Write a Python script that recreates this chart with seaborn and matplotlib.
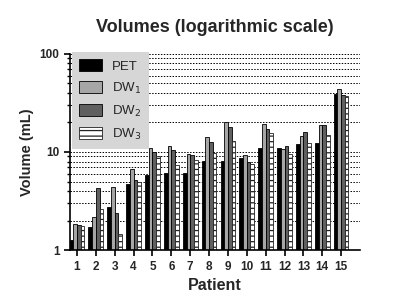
import matplotlib
matplotlib.use('Agg')
import matplotlib.pyplot as plt
import matplotlib.ticker as mticker
import numpy as np
import pandas as pd
import seaborn as sns

# values (mL)
patients = [str(i) for i in range(1, 16)]
pet = [1.26, 1.70, 2.73, 4.75, 5.8, 6.06, 6.06, 8.05, 8.17, 8.76, 11.0, 11.0, 12.0, 12.3, 38.8]
dw1 = [1.83, 2.17, 4.36, 6.7, 10.9, 11.6, 9.5, 14.1, 20.1, 9.24, 19.2, 10.8, 14.5, 18.8, 44.0]
dw2 = [1.79, 4.26, 2.38, 5.15, 10.0, 10.6, 9.4, 12.5, 17.9, 7.97, 17.3, 11.4, 15.9, 18.8, 38.1]
dw3 = [1.76, 2.60, 1.46, 5.0, 9.1, 7.37, 8.3, 9.7, 12.8, 7.5, 15.5, 9.5, 12.3, 14.8, 37.5]
series = ['PET', 'DW$_1$', 'DW$_2$', 'DW$_3$']

df = pd.DataFrame({'Patient': patients, series[0]: pet, series[1]: dw1,
                   series[2]: dw2, series[3]: dw3})
long_df = df.melt(id_vars='Patient', var_name='Series', value_name='Volume')

sns.set_style('white')
plt.rcParams['font.family'] = ['Liberation Sans', 'DejaVu Sans']
plt.rcParams['hatch.linewidth'] = 0.9

fig = plt.figure(figsize=(4, 3.08), dpi=100)
ax = fig.add_axes([0.175, 0.188, 0.725, 0.637])

sns.barplot(data=long_df, x='Patient', y='Volume', hue='Series', ax=ax,
            width=0.78, gap=0, legend=False, saturation=1,
            palette=['#000000', '#a6a6a6', '#606060', '#ffffff'],
            edgecolor='black', linewidth=0.6)

# white series gets horizontal stripes
for p in ax.containers[3].patches:
    p.set_hatch('---')
    p.set_edgecolor('#222222')

ax.set_yscale('log')
ax.set_ylim(1, 100)
ax.set_xlim(-0.37, 15.0)
ax.yaxis.set_major_formatter(mticker.FormatStrFormatter('%d'))
ax.yaxis.set_minor_formatter(mticker.NullFormatter())
ax.set_axisbelow(True)
ax.yaxis.grid(True, which='both', linestyle=(0, (1.5, 1.5)), color='black', linewidth=0.7)

for s in ['top', 'right']:
    ax.spines[s].set_visible(False)
for s in ['left', 'bottom']:
    ax.spines[s].set_color('black')
    ax.spines[s].set_linewidth(1.2)

ax.tick_params(axis='both', which='major', direction='out', length=4, width=1.2,
               color='black', left=True, bottom=True, labelsize=8.5)
ax.tick_params(axis='y', which='minor', direction='out', length=2.5, width=1,
               color='black', left=True)
for lbl in ax.get_xticklabels() + ax.get_yticklabels():
    lbl.set_fontweight('bold')

ax.set_xlabel('Patient', fontsize=11.5, fontweight='bold')
ax.set_ylabel('Volume (mL)', fontsize=10.5, fontweight='bold')
ax.set_title('Volumes (logarithmic scale)', fontsize=13, fontweight='bold', pad=16)

leg = ax.legend(ax.containers, series, loc='upper left', bbox_to_anchor=(0.007, 1.01),
                fontsize=9.5, frameon=True, fancybox=False, framealpha=1,
                facecolor='#d6d6d6', edgecolor='none', borderpad=0.55,
                handlelength=1.7, handleheight=1.0, labelspacing=0.6,
                handletextpad=0.8, borderaxespad=0)

plt.savefig('out.png', dpi=100)
